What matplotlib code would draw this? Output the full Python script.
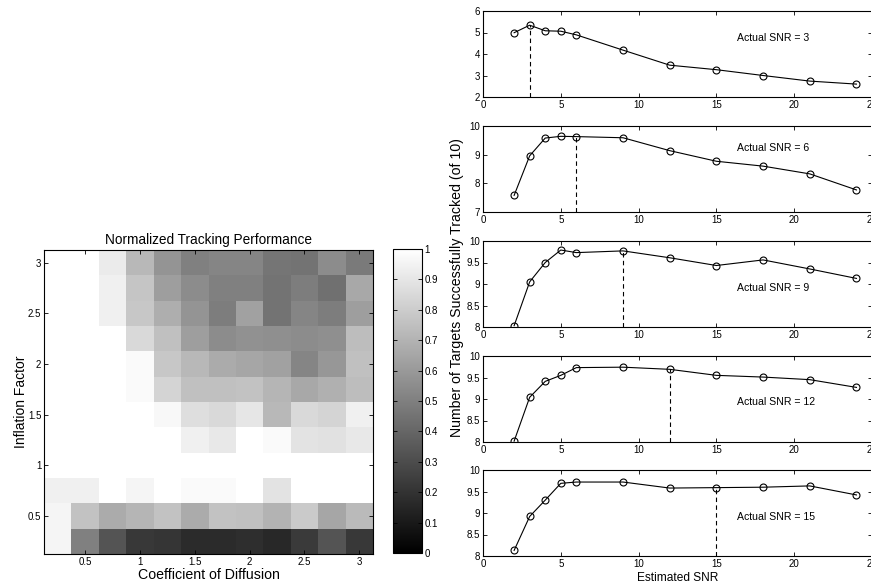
import numpy as np
import matplotlib
matplotlib.use("Agg")
import matplotlib.pyplot as plt
from matplotlib.ticker import FuncFormatter

plt.rcParams['font.family'] = ['Liberation Sans', 'DejaVu Sans']

# heatmap data: rows = inflation factor, columns = coefficient of diffusion
diffusion = [0.25, 0.5, 0.75, 1.0, 1.25, 1.5, 1.75, 2.0, 2.25, 2.5, 2.75, 3.0]
inflation = [0.25, 0.5, 0.75, 1.0, 1.25, 1.5, 1.75, 2.0, 2.25, 2.5, 2.75, 3.0]
perf = [
    [0.96, 0.50, 0.33, 0.22, 0.21, 0.17, 0.17, 0.18, 0.16, 0.23, 0.33, 0.22],
    [0.96, 0.76, 0.67, 0.71, 0.76, 0.67, 0.76, 0.75, 0.70, 0.79, 0.65, 0.73],
    [0.94, 0.94, 1.00, 0.96, 1.00, 0.98, 0.98, 1.00, 0.89, 1.00, 1.00, 1.00],
    [1.00, 1.00, 1.00, 1.00, 1.00, 1.00, 1.00, 1.00, 1.00, 1.00, 1.00, 1.00],
    [1.00, 1.00, 1.00, 1.00, 1.00, 0.94, 0.91, 1.00, 0.98, 0.89, 0.88, 0.91],
    [1.00, 1.00, 1.00, 1.00, 0.97, 0.87, 0.85, 0.90, 0.72, 0.85, 0.83, 0.94],
    [1.00, 1.00, 1.00, 0.98, 0.83, 0.75, 0.75, 0.76, 0.71, 0.66, 0.69, 0.74],
    [1.00, 1.00, 1.00, 0.98, 0.78, 0.72, 0.67, 0.65, 0.63, 0.52, 0.59, 0.75],
    [1.00, 1.00, 1.00, 0.85, 0.75, 0.62, 0.55, 0.57, 0.56, 0.55, 0.56, 0.74],
    [1.00, 1.00, 0.94, 0.78, 0.68, 0.58, 0.49, 0.63, 0.45, 0.52, 0.49, 0.62],
    [1.00, 1.00, 0.94, 0.77, 0.62, 0.55, 0.50, 0.50, 0.45, 0.49, 0.44, 0.66],
    [1.00, 1.00, 0.92, 0.72, 0.58, 0.50, 0.52, 0.52, 0.46, 0.45, 0.55, 0.48],
]

# tracking data for each actual SNR
est_snr = [2, 3, 4, 5, 6, 9, 12, 15, 18, 21, 24]
actual_snr = [3, 6, 9, 12, 15]
tracked_snr3 = [4.99, 5.34, 5.08, 5.06, 4.89, 4.18, 3.48, 3.27, 3.00, 2.74, 2.60]
tracked_snr6 = [7.58, 8.96, 9.58, 9.64, 9.63, 9.59, 9.14, 8.77, 8.60, 8.33, 7.77]
tracked_snr9 = [8.03, 9.05, 9.50, 9.79, 9.73, 9.77, 9.61, 9.43, 9.56, 9.35, 9.13]
tracked_snr12 = [8.02, 9.04, 9.41, 9.55, 9.73, 9.74, 9.69, 9.55, 9.51, 9.45, 9.27]
tracked_snr15 = [8.13, 8.92, 9.30, 9.69, 9.72, 9.72, 9.58, 9.59, 9.60, 9.63, 9.42]
tracked = [tracked_snr3, tracked_snr6, tracked_snr9, tracked_snr12, tracked_snr15]
ylims = [(2, 6), (7, 10), (8, 10), (8, 10), (8, 10)]
yticks = [[2, 3, 4, 5, 6], [7, 8, 9, 10], [8, 8.5, 9, 9.5, 10],
          [8, 8.5, 9, 9.5, 10], [8, 8.5, 9, 9.5, 10]]
label_y = [4.73, 9.22, 8.9, 8.92, 8.9]

W, H = 871, 585
fig = plt.figure(figsize=(W / 100, H / 100), dpi=100)


def px_axes(l, t, r, b):
    return fig.add_axes([l / W, 1 - b / H, (r - l) / W, (b - t) / H])


def matlab_ticks(ax, size=7):
    ax.tick_params(direction="in", top=True, right=True, length=3,
                   width=0.6, labelsize=size, pad=2)
    for s in ax.spines.values():
        s.set_linewidth(0.8)


gfmt = FuncFormatter(lambda v, p: f"{v:g}")

# ---- heatmap
ax = px_axes(44, 250, 373, 554)
mesh = ax.pcolormesh(diffusion, inflation, np.array(perf), shading="nearest",
                     cmap="gray", vmin=0, vmax=1)
ax.set_xticks([0.5, 1, 1.5, 2, 2.5, 3])
ax.set_yticks([0.5, 1, 1.5, 2, 2.5, 3])
ax.xaxis.set_major_formatter(gfmt)
ax.yaxis.set_major_formatter(gfmt)
matlab_ticks(ax)
ax.set_title("Normalized Tracking Performance", fontsize=9.8, pad=4)
ax.set_xlabel("Coefficient of Diffusion", fontsize=10.2, labelpad=1)
ax.set_ylabel("Inflation Factor", fontsize=10, labelpad=0)

cax = px_axes(393, 249, 422, 553)
cb = fig.colorbar(mesh, cax=cax, ticks=np.arange(0, 1.01, 0.1))
cb.ax.yaxis.set_major_formatter(gfmt)
cb.ax.tick_params(direction="in", left=True, right=True, length=3, width=0.6,
                  labelsize=7, pad=2)
cb.outline.set_linewidth(0.8)

# ---- SNR panels
tops = [11, 126, 241, 356, 470]
axes = []
for i, top in enumerate(tops):
    a = px_axes(483, top, 872, top + 86)
    y = tracked[i]
    a.plot(est_snr, y, color="black", lw=0.8, marker="o", ms=5,
           mfc="none", mec="black", mew=0.8)
    snr = actual_snr[i]
    a.plot([snr, snr], [ylims[i][0], y[est_snr.index(snr)]], color="black",
           lw=0.8, ls=(0, (4, 3)))
    a.set_xlim(0, 25)
    a.set_ylim(*ylims[i])
    a.set_xticks([0, 5, 10, 15, 20, 25])
    a.set_yticks(yticks[i])
    a.yaxis.set_major_formatter(gfmt)
    matlab_ticks(a)
    a.text(16.3, label_y[i], f"Actual SNR = {snr}", fontsize=7.6, va="center")
    axes.append(a)

axes[-1].set_xlabel("Estimated SNR", fontsize=8.6, labelpad=2)
fig.text(457 / W, 1 - 288 / H, "Number of Targets Successfully Tracked (of 10)",
         rotation=90, ha="center", va="center", fontsize=10.2)

fig.savefig("out.png", dpi=100, facecolor="white")
